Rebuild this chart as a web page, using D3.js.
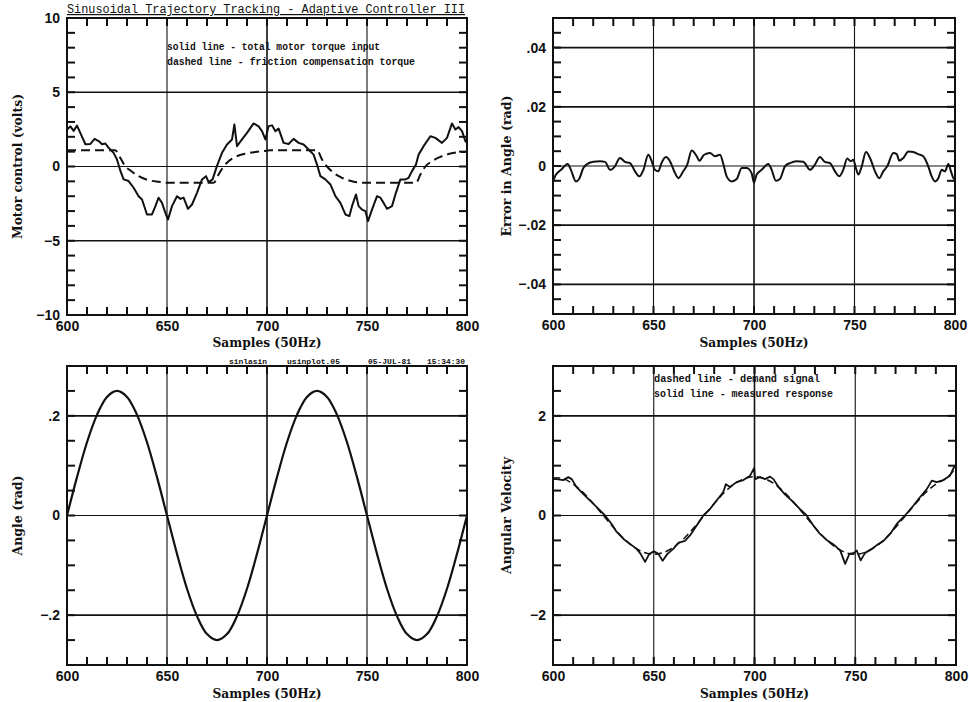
<!DOCTYPE html>
<html><head><meta charset="utf-8">
<script src="https://cdn.jsdelivr.net/npm/d3@7"></script>
<style>body{margin:0;background:#fff}svg{display:block}</style>
</head><body><svg id="c" width="969" height="702"></svg>
<script>
// ---------- data ----------
const sampleDomain = [600, 800];
const sampleTicks = [600, 650, 700, 750, 800];
const sampleTickLabels = ["600", "650", "700", "750", "800"];

// Panel 1: motor control (volts)
const torqueX = [600,601.7,603.3,605,606.7,609.2,611.7,613.8,616,617.5,619.2,620.8,623.3,625,626.7,628.3,630.8,633.3,635.8,637.5,640,642.5,644.2,645.8,647.5,649.2,650.5,652.5,655,656.7,658.3,660.5,662.5,665,667.5,669.5,670.8,672.8,675,677.5,680,682.5,683.7,685,687.5,690,693.3,695.8,697.5,699.2,700.8,702.5,704.2,705.8,708.3,710.8,713.3,715.8,718.3,720.8,723.3,725,726.7,729.2,731.7,734.2,736.7,739.2,741.2,742.5,744.5,745.8,747.5,749.2,750.5,752.5,755,756.7,758.3,760,762.5,764.2,766.7,769.2,770.8,772.5,774.5,775.8,778.3,781.7,784.2,787.5,790,792.5,794.2,795.8,797.5,799.2,800];
const torqueY = [2.5,2.7,2.4,2.75,2.25,1.5,1.52,1.86,1.7,1.5,1.55,1.26,0.92,0.47,-0.3,-0.87,-0.98,-1.43,-2.0,-2.22,-3.23,-3.23,-2.67,-2.1,-2.45,-3.12,-3.57,-2.67,-2.0,-2.18,-2.1,-2.85,-2.56,-1.77,-0.87,-0.65,-1.05,-0.87,0.04,0.92,1.48,1.82,2.83,1.37,1.82,2.26,2.9,2.7,2.38,1.82,2.72,2.77,2.38,2.55,1.59,1.52,1.86,1.59,1.48,1.14,0.8,0.13,-0.65,-0.87,-1.21,-2.0,-2.45,-3.23,-3.34,-2.67,-1.88,-2.67,-2.9,-3.0,-3.68,-2.9,-2.0,-2.1,-2.45,-2.85,-2.67,-1.88,-0.87,-0.87,-0.76,-0.31,0.13,0.8,1.37,2.04,1.93,1.59,1.93,2.9,2.49,2.65,2.38,1.71,1.6];
const frictionX = [600,624,626.7,629.2,631.7,635.8,640.8,645.8,650.8,673.3,675.8,678.3,680.8,684.2,689.2,694.2,699.2,702,725,727.5,730,733.3,737.5,742.5,747.5,774.5,776.7,779.2,782.5,786.7,791.7,797.5,800];
const frictionY = [1.1,1.1,0.57,0.0,-0.27,-0.65,-0.92,-1.03,-1.1,-1.1,-0.54,0,0.36,0.65,0.87,0.98,1.05,1.1,1.1,0.47,0,-0.43,-0.76,-0.99,-1.1,-1.1,-0.54,0,0.36,0.65,0.87,0.98,1.0];
const torqueTicks = [10, 5, 0, -5, -10];
const torqueTickLabels = ["10", "5", "0", "\u22125", "\u221210"];

// Panel 2: error in angle (rad)
const errorX = [600,601.5,604,607.3,608.9,611.4,613,615.1,616.7,620,623.4,625.9,628.4,630.8,633.3,635.8,638.3,640.8,643,645,647.4,649.1,650.7,652.4,654,656.2,658.2,660.7,662.4,664.8,666.8,669,671.5,672.8,675.2,678.1,680.6,683.1,684.8,686.4,688.9,691.4,693.9,696.3,698.8,700,701.3,703.8,707.1,708.8,710.9,712.9,715.4,717.9,721.2,724.5,727.9,730.3,732.8,735.3,737.8,740.3,742.4,744.4,746.4,748.1,749.4,750.7,751.9,753.6,755.7,757.7,760.2,762.3,764.3,766.3,769.3,771,772.3,774.3,776.8,779.3,781.7,784.2,786.7,788.4,790,791.7,793.4,795,796.7,798,799.5,800];
const errorY = [-0.0052,-0.0029,-0.0013,0.0007,-0.0013,-0.0052,-0.0044,-0.0007,0.0005,0.0014,0.0016,0.0014,-0.0013,-0.0001,0.0027,0.0014,0.001,-0.0018,-0.0035,-0.0013,0.0038,0.0016,-0.0013,-0.0018,0.001,0.003,0.0016,-0.0024,-0.0041,-0.0018,0.0005,0.0052,0.0033,0.0018,0.0038,0.0044,0.0033,0.0038,0.0005,-0.0035,-0.0052,-0.0044,-0.0007,-0.0007,-0.0024,-0.0056,-0.0029,-0.0013,0.0007,-0.0013,-0.005,-0.0044,-0.0001,0.001,0.0016,0.0014,-0.0013,0.0005,0.003,0.0014,0.001,-0.0018,-0.0035,-0.0013,0.0025,0.0016,0.0021,-0.0007,-0.0029,-0.0001,0.0047,0.0027,-0.0018,-0.0041,-0.0018,-0.0001,0.0044,0.004,0.0018,0.0027,0.0049,0.0047,0.004,0.0033,-0.0001,-0.0035,-0.0052,-0.0041,-0.0013,-0.0018,0.0007,-0.0018,-0.0044,-0.004];
const errorTicks = [0.04, 0.02, 0, -0.02, -0.04];
const errorTickLabels = [".04", ".02", "0", "\u2212.02", "\u2212.04"];

// Panel 3: angle (rad)
const angleX = [600,605,610,615,620,625,630,635,640,645,650,655,660,665,670,675,680,685,690,695,700,705,710,715,720,725,730,735,740,745,750,755,760,765,770,775,780,785,790,795,800];
const angleY = [0,0.077,0.147,0.202,0.238,0.25,0.238,0.202,0.147,0.077,0,-0.077,-0.147,-0.202,-0.238,-0.25,-0.238,-0.202,-0.147,-0.077,0,0.077,0.147,0.202,0.238,0.25,0.238,0.202,0.147,0.077,0,-0.077,-0.147,-0.202,-0.238,-0.25,-0.238,-0.202,-0.147,-0.077,0];
const angleTicks = [0.2, 0, -0.2];
const angleTickLabels = [".2", "0", "\u2212.2"];

// Panel 4: angular velocity
const demandX = [600,605,610,615,620,625,630,635,640,645,650,655,660,665,670,675,680,685,690,695,700,705,710,715,720,725,730,735,740,745,750,755,760,765,770,775,780,785,790,795,800];
const demandY = [0.76,0.74,0.63,0.46,0.24,0.0,-0.24,-0.46,-0.63,-0.74,-0.78,-0.74,-0.63,-0.46,-0.24,0.0,0.24,0.46,0.63,0.74,0.78,0.74,0.63,0.46,0.24,0.0,-0.24,-0.46,-0.63,-0.74,-0.78,-0.74,-0.63,-0.46,-0.24,0.0,0.24,0.46,0.63,0.74,0.95];
const velocityX = [600,601.8,605.1,607.6,609.3,611.7,615.1,618.4,621.7,625.8,629.1,631.6,635,638.2,641.5,643.5,645.7,647.8,650.1,652.3,654.4,656.8,659.7,662.2,665.5,668,671.3,674.6,677.9,681.2,684.5,685.8,687.8,691.1,694.5,697.8,699.8,700.3,702.8,705.2,707.7,709.4,711.9,715.2,718.5,722.6,725.9,729.2,732.5,735.8,739.2,742.5,745,747.1,749.4,750.7,752.7,754.9,758.2,761.5,764,767.3,770.6,774.7,778.9,782.2,785.5,788,790.4,793.7,797,799,800];
const velocityY = [0.73,0.73,0.71,0.77,0.73,0.57,0.43,0.3,0.17,0.0,-0.17,-0.33,-0.47,-0.57,-0.67,-0.77,-0.93,-0.77,-0.72,-0.77,-0.91,-0.77,-0.67,-0.55,-0.51,-0.4,-0.2,0.0,0.13,0.3,0.47,0.63,0.57,0.67,0.71,0.8,0.95,0.73,0.77,0.73,0.78,0.73,0.57,0.42,0.3,0.13,0.0,-0.2,-0.37,-0.49,-0.58,-0.7,-0.97,-0.77,-0.75,-0.7,-0.9,-0.75,-0.67,-0.57,-0.51,-0.37,-0.17,0.0,0.2,0.37,0.53,0.7,0.67,0.71,0.8,0.97,0.98];
const velocityTicks = [2, 0, -2];
const velocityTickLabels = ["2", "0", "\u22122"];

// ---------- drawing ----------
const svg = d3.select("#c");
svg.append("rect").attr("width", 969).attr("height", 702).attr("fill", "#fff");

const TICKFONT = "'Liberation Sans', Arial, sans-serif";
const SERIF = "'DejaVu Serif', 'Liberation Serif', serif";
const MONO = "'Liberation Mono', 'DejaVu Sans Mono', monospace";
const INK = "#111";

function panel(o) {
  const x = d3.scaleLinear().domain(sampleDomain).range([o.left, o.right]);
  const y = d3.scaleLinear().domain(o.yDomain).range([o.bottom, o.top]);
  const g = svg.append("g");

  // grid lines
  o.yTicks.filter(v => v > o.yDomain[0] && v < o.yDomain[1]).forEach(v => {
    g.append("line").attr("x1", o.left).attr("x2", o.right)
      .attr("y1", y(v)).attr("y2", y(v))
      .attr("stroke", INK).attr("stroke-width", v === 0 ? 1.2 : 1.7);
  });
  sampleTicks.filter(v => v > sampleDomain[0] && v < sampleDomain[1]).forEach(v => {
    g.append("line").attr("y1", o.top).attr("y2", o.bottom)
      .attr("x1", x(v)).attr("x2", x(v))
      .attr("stroke", INK).attr("stroke-width", v === 700 ? 1.6 : 1.1);
  });

  const xMinor = d3.range(sampleDomain[0] + 10, sampleDomain[1] - 0.001, 10);
  const nY = Math.round((o.yDomain[1] - o.yDomain[0]) / o.yStep);
  const yMinor = d3.range(1, nY).map(i => +(o.yDomain[0] + i * o.yStep).toFixed(6));

  // inward minor ticks on all four sides
  const TL = 8;
  xMinor.forEach(v => {
    g.append("line").attr("x1", x(v)).attr("x2", x(v)).attr("y1", o.bottom).attr("y2", o.bottom - TL)
      .attr("stroke", INK).attr("stroke-width", 2);
    g.append("line").attr("x1", x(v)).attr("x2", x(v)).attr("y1", o.top).attr("y2", o.top + TL)
      .attr("stroke", INK).attr("stroke-width", 2);
  });
  yMinor.forEach(v => {
    g.append("line").attr("y1", y(v)).attr("y2", y(v)).attr("x1", o.left).attr("x2", o.left + TL)
      .attr("stroke", INK).attr("stroke-width", 2);
    g.append("line").attr("y1", y(v)).attr("y2", y(v)).attr("x1", o.right).attr("x2", o.right - TL)
      .attr("stroke", INK).attr("stroke-width", 2);
  });

  const labelFor = (vals, labels) => d => {
    const i = vals.findIndex(v => Math.abs(v - d) < 1e-9);
    return i >= 0 ? labels[i] : "";
  };
  const styleAxis = sel => {
    sel.select(".domain").remove();
    sel.selectAll(".tick line").remove();
    sel.selectAll("text").attr("font-family", TICKFONT).attr("font-weight", "bold")
      .attr("font-size", 14).attr("fill", INK);
  };

  // tick labels via d3 axes
  g.append("g").attr("transform", `translate(0,${o.bottom})`)
    .call(d3.axisBottom(x).tickValues(sampleTicks).tickSize(0).tickPadding(6)
      .tickFormat(labelFor(sampleTicks, sampleTickLabels)))
    .call(styleAxis);
  g.append("g").attr("transform", `translate(${o.left},0)`)
    .call(d3.axisLeft(y).tickValues(o.yTicks).tickSize(0).tickPadding(7)
      .tickFormat(labelFor(o.yTicks, o.yLabels)))
    .call(styleAxis);

  // frame
  g.append("rect").attr("x", o.left).attr("y", o.top)
    .attr("width", o.right - o.left).attr("height", o.bottom - o.top)
    .attr("fill", "none").attr("stroke", INK).attr("stroke-width", 2);

  // series
  o.series.forEach(s => {
    const line = d3.line().x(d => x(d[0])).y(d => y(d[1])).curve(s.curve || d3.curveLinear);
    g.append("path").datum(d3.zip(s.x, s.y))
      .attr("d", line)
      .attr("fill", "none").attr("stroke", INK)
      .attr("stroke-width", s.width || 2)
      .attr("stroke-linejoin", "round")
      .attr("stroke-dasharray", s.dash || null);
  });

  // axis titles
  const cx = (o.left + o.right) / 2, cy = (o.top + o.bottom) / 2;
  g.append("text").attr("x", cx).attr("y", o.xTitleY)
    .attr("text-anchor", "middle").attr("font-family", SERIF).attr("font-weight", "bold")
    .attr("font-size", 12).attr("fill", INK)
    .attr("textLength", 109).attr("lengthAdjust", "spacingAndGlyphs")
    .text("Samples (50Hz)");
  g.append("text").attr("transform", `translate(${o.yTitleX},${cy}) rotate(-90)`)
    .attr("text-anchor", "middle").attr("font-family", SERIF).attr("font-weight", "bold")
    .attr("font-size", 12).attr("fill", INK)
    .attr("textLength", o.yTitleLen).attr("lengthAdjust", "spacingAndGlyphs")
    .text(o.yTitle);
  return g;
}

panel({
  left: 67, right: 467, top: 18, bottom: 315,
  yDomain: [-10, 10], yStep: 1, yTicks: torqueTicks, yLabels: torqueTickLabels,
  yTitle: "Motor control (volts)", yTitleX: 22, yTitleLen: 145, xTitleY: 347,
  series: [
    { x: frictionX, y: frictionY, dash: "9,5", width: 2, curve: d3.curveMonotoneX },
    { x: torqueX, y: torqueY, width: 2 }
  ]
});
panel({
  left: 553, right: 955, top: 18, bottom: 314,
  yDomain: [-0.05, 0.05], yStep: 0.005, yTicks: errorTicks, yLabels: errorTickLabels,
  yTitle: "Error in Angle (rad)", yTitleX: 511, yTitleLen: 141, xTitleY: 347,
  series: [{ x: errorX, y: errorY, width: 2, curve: d3.curveMonotoneX }]
});
panel({
  left: 67, right: 467, top: 366, bottom: 665,
  yDomain: [-0.3, 0.3], yStep: 0.05, yTicks: angleTicks, yLabels: angleTickLabels,
  yTitle: "Angle (rad)", yTitleX: 22, yTitleLen: 80, xTitleY: 698,
  series: [{ x: angleX, y: angleY, width: 2.2, curve: d3.curveCatmullRom }]
});
panel({
  left: 553, right: 956, top: 366, bottom: 665,
  yDomain: [-3, 3], yStep: 0.5, yTicks: velocityTicks, yLabels: velocityTickLabels,
  yTitle: "Angular Velocity", yTitleX: 511, yTitleLen: 117, xTitleY: 698,
  series: [
    { x: demandX, y: demandY, dash: "7,4", width: 1.5, curve: d3.curveCatmullRom },
    { x: velocityX, y: velocityY, width: 1.8 }
  ]
});

// title
svg.append("text").attr("x", 67).attr("y", 13)
  .attr("font-family", MONO).attr("font-size", 12).attr("fill", INK)
  .attr("text-decoration", "underline")
  .attr("textLength", 398).attr("lengthAdjust", "spacingAndGlyphs")
  .text("Sinusoidal Trajectory Tracking - Adaptive Controller III");

// legends
function note(x, y, len, txt, size) {
  svg.append("text").attr("x", x).attr("y", y)
    .attr("font-family", MONO).attr("font-weight", "bold")
    .attr("font-size", size || 10).attr("fill", INK)
    .attr("textLength", len).attr("lengthAdjust", "spacingAndGlyphs")
    .text(txt);
}
note(167, 50, 213, "solid line - total motor torque input");
note(167, 65, 248, "dashed line - friction compensation torque");
note(654, 382, 166, "dashed line - demand signal");
note(654, 397, 179, "solid line - measured response");

// plot stamp
note(229, 364, 38, "sinlasin", 6.5);
note(287, 364, 53, "usinplot.05", 6.5);
note(368, 364, 43, "05-JUL-81", 6.5);
note(427, 364, 38, "15:34:30", 6.5);
</script></body></html>
